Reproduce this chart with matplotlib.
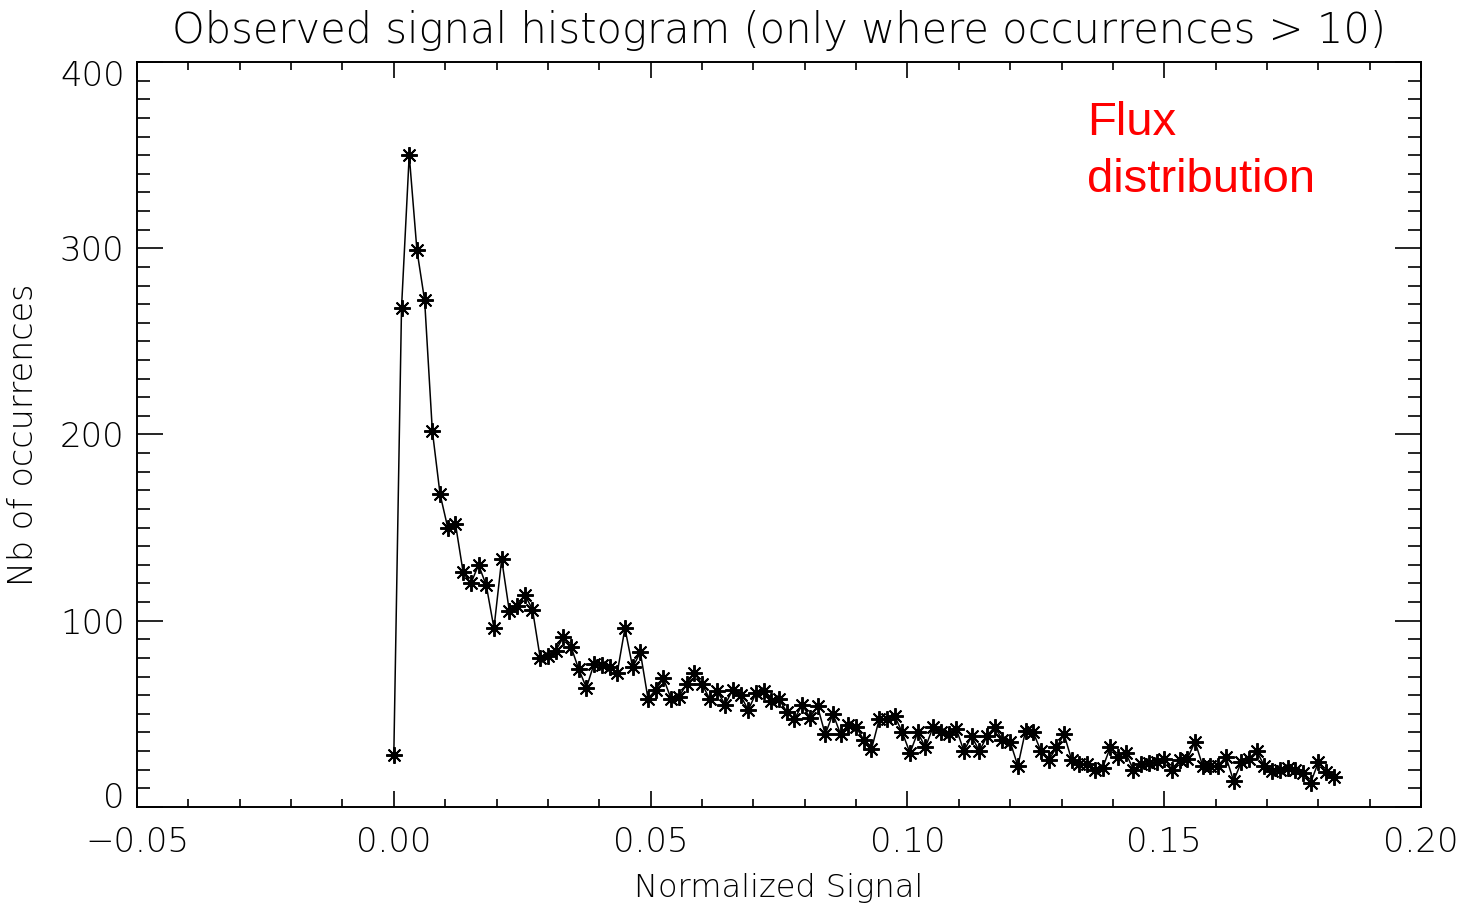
import numpy as np
import matplotlib
matplotlib.use("Agg")
import matplotlib.pyplot as plt
from matplotlib.ticker import MultipleLocator
from matplotlib.transforms import ScaledTranslation

# Histogram bins of the normalized signal (bin centres start at 0, fixed width)
bin_start = 0.0
bin_width = 0.0015
counts = [
    28, 268, 350, 299, 272, 202, 168, 150, 152, 126, 120, 130, 119, 96, 133,
    105, 108, 114, 106, 80, 81, 84, 91,
    86, 74, 64, 77, 76, 75, 72, 96, 75, 83, 58, 63, 69, 58, 59, 66, 72, 66,
    58, 62, 55, 63, 60, 52, 61,
    62, 57, 58, 51, 47, 55, 48, 54, 39, 50, 39, 44, 43, 36, 31, 47, 47, 49,
    40, 29, 40, 32, 43, 40,
    39, 42, 30, 38, 30, 38, 43, 36, 35, 22, 41, 40, 30, 25, 32, 39, 25, 23,
    23, 20, 21, 32, 27, 29,
    20, 23, 23.5, 24, 26, 20, 25, 26, 35, 22, 22, 22, 27, 14, 24, 26, 30, 22,
    19.5, 20, 21, 20, 18, 13, 24, 19, 16,
]
signal = bin_start + bin_width * np.arange(len(counts))

x_ticks = [-0.05, 0.00, 0.05, 0.10, 0.15, 0.20]
x_tick_labels = ["\u22120.05", "0.00", "0.05", "0.10", "0.15", "0.20"]
y_ticks = [0, 100, 200, 300, 400]

title = "Observed signal histogram (only where occurrences > 10)"
x_label = "Normalized Signal"
y_label = "Nb of occurrences"
note_lines = ["Flux", "distribution"]

plain = dict(family="DejaVu Sans", fontweight="light")

fig = plt.figure(figsize=(14.7, 9.07), dpi=100)
ax = fig.add_axes([0.0932, 0.1103, 0.8735, 0.8213])

ax.plot(signal, counts, color="black", lw=1.1,
        marker=(8, 2, 0), markersize=12, markeredgewidth=1.4,
        markeredgecolor="black")

ax.set_xlim(-0.05, 0.20)
ax.set_ylim(0, 400)
ax.set_xticks(x_ticks)
ax.set_xticklabels(x_tick_labels, fontsize=24.5, **plain)
ax.set_yticks(y_ticks)
ax.set_yticklabels([str(v) for v in y_ticks], fontsize=24.5, **plain)
ax.xaxis.set_minor_locator(MultipleLocator(0.01))
ax.yaxis.set_minor_locator(MultipleLocator(10))

ax.tick_params(axis="x", which="major", direction="in", length=11.5, width=1.2,
               top=True, bottom=True, pad=14)
ax.tick_params(axis="x", which="minor", direction="in", length=5.8, width=1.2,
               top=True, bottom=True)
ax.tick_params(axis="y", which="major", direction="in", length=19, width=1.2,
               left=True, right=True, pad=9)
ax.tick_params(axis="y", which="minor", direction="in", length=9.5, width=1.2,
               left=True, right=True)

# keep the end labels of the count axis inside the frame
ylabels = ax.get_yticklabels()
ylabels[0].set_transform(ylabels[0].get_transform() +
                         ScaledTranslation(0, 12 / 100, fig.dpi_scale_trans))
ylabels[-1].set_transform(ylabels[-1].get_transform() +
                          ScaledTranslation(0, -11 / 100, fig.dpi_scale_trans))

for spine in ax.spines.values():
    spine.set_linewidth(1.4)

ax.set_title(title, fontsize=30, pad=13.5, **plain)
ax.set_xlabel(x_label, fontsize=23, labelpad=10, **plain)
ax.set_ylabel(y_label, fontsize=24, labelpad=14, **plain)

fig.text(1087 / 1470, 1 - 135 / 907, note_lines[0], color="#ff0000",
         fontsize=34, family="Liberation Sans", va="baseline", ha="left")
fig.text(1087 / 1470, 1 - 192 / 907, note_lines[1], color="#ff0000",
         fontsize=34, family="Liberation Sans", va="baseline", ha="left")

fig.savefig("out.png", dpi=100)
